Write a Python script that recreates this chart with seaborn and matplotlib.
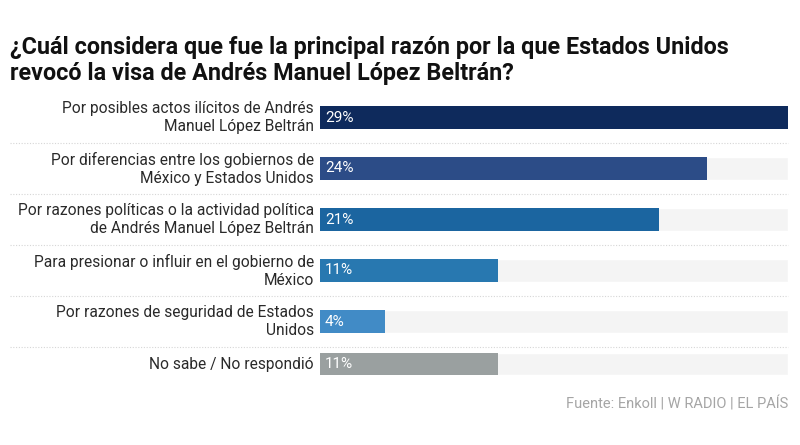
import matplotlib
matplotlib.use("Agg")
import matplotlib.pyplot as plt
import seaborn as sns
import pandas as pd

razones = [
    "Por posibles actos ilícitos de Andrés\nManuel López Beltrán",
    "Por diferencias entre los gobiernos de\nMéxico y Estados Unidos",
    "Por razones políticas o la actividad política\nde Andrés Manuel López Beltrán",
    "Para presionar o influir en el gobierno de\nMéxico",
    "Por razones de seguridad de Estados\nUnidos",
    "No sabe / No respondió",
]
porcentajes = [29, 24, 21, 11, 4, 11]
colores = ["#0e2a5c", "#2c4c87", "#1b65a0", "#2878b0", "#418bc6", "#9aa0a0"]

sns.set_theme(style="white")
plt.rcParams["font.family"] = ["Roboto", "DejaVu Sans"]

# row centres (pixel-like units) from the number of label lines
pos, y = [], 92.0
halves = []
for r in razones:
    half = 25.5 if "\n" in r else 17.0
    halves.append(half)
    pos.append(y + half)
    y += 2 * half
bottom = y

df = pd.DataFrame({"pos": pos, "valor": porcentajes, "razon": razones})

fig = plt.figure(figsize=(8, 4.45), dpi=100)
ax = fig.add_axes([320 / 800, 1 - bottom / 445, 468 / 800, (bottom - 92) / 445])

bar_h = 22.5
ax.barh(pos, max(porcentajes), height=bar_h, color="#f4f4f4", zorder=0)
sns.barplot(data=df, x="valor", y="pos", hue="razon", palette=colores,
            orient="h", native_scale=True, dodge=False, legend=False,
            saturation=1,
            width=bar_h / min(b - a for a, b in zip(pos, pos[1:])),
            ax=ax, zorder=2, linewidth=0)

ax.set_xlim(0, max(porcentajes))
ax.set_ylim(bottom, 92)
ax.axis("off")

for p, v, r in zip(pos, porcentajes, razones):
    ax.text(0.3, p, f"{v}%", color="white", fontsize=11, va="center", ha="left", zorder=3)
    ax.text(-0.37, p, r, color="#2a2a2a", fontsize=11.2, va="center", ha="right",
            linespacing=1.25, zorder=3)

# dotted separators between rows, running under the labels too
for p, h in zip(pos[1:], halves[1:]):
    ax.axhline(p - h, xmin=(10 - 320) / 468, xmax=1,
               color="#d6d6d6", linestyle=(0, (1, 1.5)), linewidth=0.8, clip_on=False)

fig.text(10 / 800, 1 - 36 / 445,
         "¿Cuál considera que fue la principal razón por la que Estados Unidos\n"
         "revocó la visa de Andrés Manuel López Beltrán?",
         fontsize=16.8, fontweight="bold", color="#111111", va="top", ha="left",
         linespacing=1.15)
fig.text(788 / 800, 1 - 404 / 445, "Fuente: Enkoll | W RADIO | EL PAÍS",
         fontsize=10.5, color="#a5a5a5", va="center", ha="right")

fig.savefig("out.png", dpi=100, facecolor="white")
